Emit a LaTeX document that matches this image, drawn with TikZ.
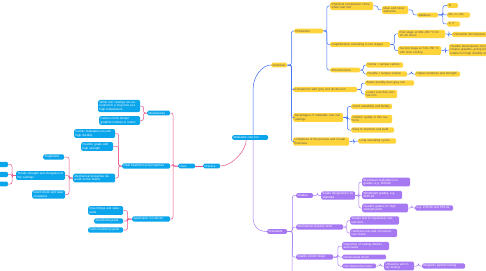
\documentclass[tikz,border=0pt]{standalone}
\usepackage{fontspec}
\setmainfont{Liberation Sans}
\definecolor{yel}{HTML}{FFD43B}
\definecolor{ytext}{HTML}{555555}
\definecolor{bnd}{HTML}{0AA5EB}
\definecolor{pnd}{HTML}{A678F2}
\definecolor{lblue}{HTML}{3C6CF0}
\definecolor{lpink}{HTML}{E8508A}
\definecolor{lpurp}{HTML}{A678F2}
\tikzset{
  base/.style={rounded corners=1.5pt, inner xsep=1.5pt, inner ysep=1.3pt, align=left,
    font=\fontsize{3}{3.5}\selectfont},
  ynode/.style={base, fill=yel, text=ytext},
  bnode/.style={base, fill=bnd, text=white},
  pnode/.style={base, fill=pnd, text=white},
  cb/.style={draw=lblue, line width=0.5pt, rounded corners=2pt},
  cp/.style={draw=lpink, line width=0.5pt, rounded corners=2pt},
  cv/.style={draw=lpurp, line width=0.5pt, rounded corners=2pt}
}
\newcommand\mn[6]{\pgfmathsetmacro\mnw{#4-#3-3}\node[#1,text width=\mnw pt,anchor=west] (#2) at (#3,#5) {#6};}
\newcommand\rc[4]{\draw[#1] (#2.east) -- ++(#4,0) |- (#3.west);}
\newcommand\lc[4]{\draw[#1] (#2.west) -- ++(-#4,0) |- (#3.east);}
\begin{document}
\begin{tikzpicture}[x=1pt,y={(0pt,-1pt)}]
\useasboundingbox (0,0) rectangle (486,270);
\clip (0,0) rectangle (486,270);
% centre
\mn{bnode}{C}{232}{268}{137.5}{Malleable cast iron}
% left branch
\mn{bnode}{A}{203}{220}{166}{Practice}
\mn{bnode}{B}{178}{195}{166}{Uses}
\mn{bnode}{B1}{147}{170}{113}{Manufacture}
\mn{bnode}{B2}{122}{170}{166}{Heat treatment and properties}
\mn{bnode}{B3}{132}{170}{219}{Application in industry}
\mn{bnode}{B1a}{98}{140}{106}{White iron castings are annealed for a long time at a high temperature}
\mn{bnode}{B1b}{99}{140}{120.5}{Carbon forms temper graphite nodules in matrix}
\mn{bnode}{B2a}{74}{115}{133.5}{Ferritic malleable iron with high ductility}
\mn{bnode}{B2b}{81}{113}{146.5}{Pearlitic grade with high strength}
\mn{bnode}{B2c}{73}{115}{178}{Mechanical properties depend on the matrix}
\mn{bnode}{D1}{43}{64}{157}{Toughness}
\mn{bnode}{D2}{16}{65}{175.5}{Tensile strength and elongation of the castings}
\mn{bnode}{D3}{32}{65}{194.5}{Good shock and wear resistance}
\mn{bnode}{E1}{-22}{8}{164.5}{Strength}
\mn{bnode}{E2}{-22}{8}{174.5}{Elongation}
\mn{bnode}{E3}{-22}{8}{184}{Hardness}
\mn{bnode}{B3a}{88}{123}{210.5}{Pipe fittings and valve parts}
\mn{bnode}{B3b}{94}{123}{221}{Automotive parts}
\mn{bnode}{B3c}{88}{123}{230}{Farm machinery parts}
\draw[cp] (A.west) -- (B.east);
\lc{cp}{B}{B1}{5}\lc{cp}{B}{B2}{5}\lc{cp}{B}{B3}{5}
\lc{cp}{B1}{B1a}{3.5}\lc{cp}{B1}{B1b}{3.5}
\lc{cp}{B2}{B2a}{3.5}\lc{cp}{B2}{B2b}{3.5}\lc{cp}{B2}{B2c}{3.5}
\lc{cp}{B2c}{D1}{4}\lc{cp}{B2c}{D2}{4}\lc{cp}{B2c}{D3}{4}
\lc{cp}{D2}{E1}{4}\lc{cp}{D2}{E2}{4}\lc{cp}{D2}{E3}{4}
\lc{cp}{B3}{B3a}{4.5}\lc{cp}{B3}{B3b}{4.5}\lc{cp}{B3}{B3c}{4.5}
\draw[cp] (A.east) .. controls +(12,0) and +(0,10) .. ([xshift=-4pt]C.south);
% yellow branch
\mn{ynode}{Y}{271}{287}{65}{Overview}
\mn{ynode}{Y1}{294}{323}{31}{Production}
\mn{ynode}{Y1a}{330}{373}{6}{Chemical composition of the white cast iron}
\mn{ynode}{Y1a1}{382}{408}{10}{Main and minor elements}
\mn{ynode}{Y1a1a}{417}{438}{15}{Additives}
\mn{ynode}{Y1a1a1}{447}{458}{5.5}{Si}
\mn{ynode}{Y1a1a2}{447}{470}{15}{Mn, Cr, Mo}
\mn{ynode}{Y1a1a3}{447}{460}{24}{S, P}
\mn{ynode}{Y1b}{330}{390}{44.5}{Graphitization annealing in two stages}
\mn{ynode}{Y1b1}{398}{445}{34}{First stage at 900–950 °C for 10–20 hours}
\mn{ynode}{Y1b1a}{452}{500}{34.5}{Cementite decomposes}
\mn{ynode}{Y1b2}{398}{441}{50.5}{Second stage at 720–760 °C with slow cooling}
\mn{ynode}{Y1b2a}{449}{505}{50}{Pearlite decomposes into ferrite and temper graphite, giving ferritic malleable iron high ductility and toughness}
\mn{ynode}{Y1c}{330}{360}{70}{Microstructure}
\mn{ynode}{Y1c1}{366}{403}{65}{Ferrite + temper carbon}
\mn{ynode}{Y1c2}{366}{407}{74}{Pearlite + temper carbon}
\mn{ynode}{Y1c2a}{415}{460}{74}{Higher hardness and strength}
\mn{ynode}{Y2}{293}{357}{89.5}{Comparison with grey and ductile iron}
\mn{ynode}{Y2a}{365}{414}{83}{Better ductility than grey iron}
\mn{ynode}{Y2b}{365}{397}{94}{Lower cost than ductile iron}
\mn{ynode}{Y3}{293}{343}{117.5}{Advantages of malleable cast iron castings}
\mn{ynode}{Y3a}{351}{392}{106.5}{Good castability and fluidity}
\mn{ynode}{Y3b}{351}{392}{119}{Uniform quality in thin sections}
\mn{ynode}{Y3c}{351}{394}{130}{Easy to machine and weld}
\mn{ynode}{Y4}{293}{349}{141.5}{Limitations of the process and of wall thickness}
\mn{ynode}{Y4a}{358}{396}{141}{Long annealing cycles}
\rc{cb}{Y}{Y1}{4}\rc{cb}{Y}{Y2}{4}\rc{cb}{Y}{Y3}{4}\rc{cb}{Y}{Y4}{4}
\rc{cb}{Y1}{Y1a}{3.5}\rc{cb}{Y1}{Y1b}{3.5}\rc{cb}{Y1}{Y1c}{3.5}
\rc{cb}{Y1a}{Y1a1}{4.5}\rc{cb}{Y1a1}{Y1a1a}{4.5}
\rc{cb}{Y1a1a}{Y1a1a1}{4.5}\rc{cb}{Y1a1a}{Y1a1a2}{4.5}\rc{cb}{Y1a1a}{Y1a1a3}{4.5}
\rc{cb}{Y1b}{Y1b1}{4}\rc{cb}{Y1b}{Y1b2}{4}
\rc{cb}{Y1b1}{Y1b1a}{3.5}\rc{cb}{Y1b2}{Y1b2a}{4}
\rc{cb}{Y1c}{Y1c1}{3}\rc{cb}{Y1c}{Y1c2}{3}\rc{cb}{Y1c2}{Y1c2a}{4}
\rc{cb}{Y2}{Y2a}{4}\rc{cb}{Y2}{Y2b}{4}
\rc{cb}{Y3}{Y3a}{4}\rc{cb}{Y3}{Y3b}{4}\rc{cb}{Y3}{Y3c}{4}
\rc{cb}{Y4}{Y4a}{4.5}
\draw[cb] ([xshift=3pt]C.north) -- ++(0,-45) .. controls +(0,-13) and +(-9,0) .. (Y.west);
% purple branch
\mn{pnode}{P}{267}{287}{231.5}{Standards}
\mn{pnode}{P1}{296}{313}{195.5}{Grades}
\mn{pnode}{P1a}{321}{355}{195.5}{Grade designations by standard}
\mn{pnode}{P1a1}{362}{410}{182}{Blackheart malleable iron grades, e.g. B30-06}
\mn{pnode}{P1a2}{362}{402}{195}{Whiteheart grades, e.g. W35-04}
\mn{pnode}{P1a3}{362}{408}{208}{Pearlitic grades for high strength parts}
\mn{pnode}{P1a3a}{415}{453}{208}{e.g. P45-06 and P55-04}
\mn{pnode}{P2}{296}{343}{227}{Mechanical property tests}
\mn{pnode}{P2a}{350}{399}{220.5}{Tensile test on separately cast test bars}
\mn{pnode}{P2b}{350}{397}{233}{Hardness test and microstructure check}
\mn{pnode}{P3}{296}{333}{257}{Quality control steps}
\mn{pnode}{P3a}{342}{389}{246}{Inspection of casting defects and cracks}
\mn{pnode}{P3b}{342}{386}{257}{Dimensional check}
\mn{pnode}{P3c}{342}{376}{266}{Non-destructive tests}
\mn{pnode}{P3c1}{384}{414}{266}{Ultrasonic and X-ray testing}
\mn{pnode}{P3c2}{422}{465}{266}{Magnetic particle testing}
\coordinate (Pend) at (292,276);
\rc{cv}{P}{P1}{5}\rc{cv}{P}{P2}{5}\rc{cv}{P}{P3}{5}
\draw[cv] (P.east) -- ++(5,0) -- (Pend);
\rc{cv}{P1}{P1a}{4}
\rc{cv}{P1a}{P1a1}{3.5}\rc{cv}{P1a}{P1a2}{3.5}\rc{cv}{P1a}{P1a3}{3.5}
\rc{cv}{P1a3}{P1a3a}{3.5}
\rc{cv}{P2}{P2a}{3.5}\rc{cv}{P2}{P2b}{3.5}
\rc{cv}{P3}{P3a}{4.5}\rc{cv}{P3}{P3b}{4.5}\rc{cv}{P3}{P3c}{4.5}
\rc{cv}{P3c}{P3c1}{4}\rc{cv}{P3c1}{P3c2}{4}
\draw[cv] ([xshift=3pt]C.south) -- ++(0,77) .. controls +(0,9) and +(-9,0) .. (P.west);
\end{tikzpicture}
\end{document}
